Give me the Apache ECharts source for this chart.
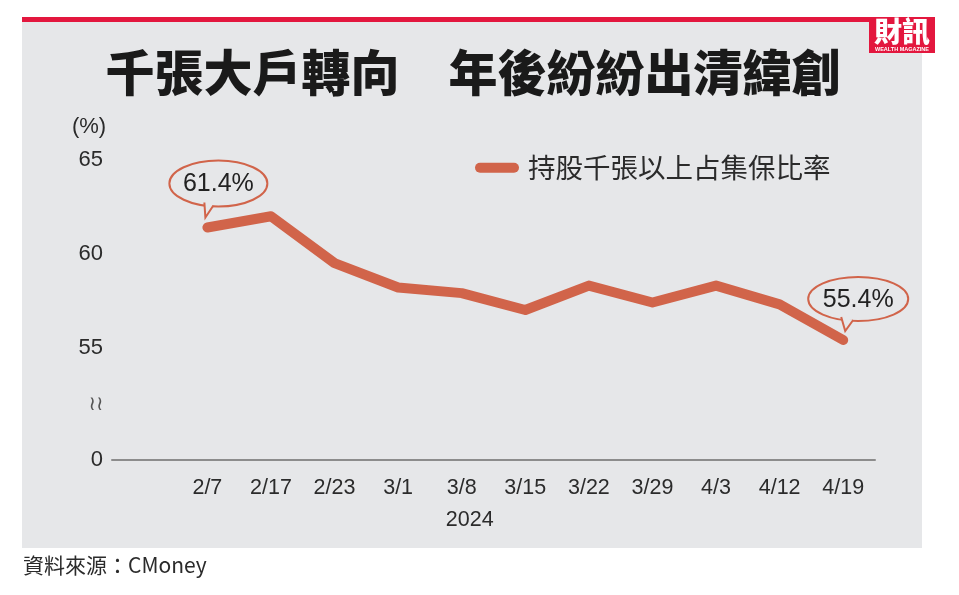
<!DOCTYPE html>
<html><head><meta charset="utf-8">
<script src="https://cdn.jsdelivr.net/npm/echarts@6/dist/echarts.min.js"></script>
<style>html,body{margin:0;padding:0;background:#fff}#c{width:959px;height:595px}</style>
</head><body><div id="c"></div>
<script>
const categories = ['', '2/7', '2/17', '2/23', '3/1', '3/8', '3/15', '3/22', '3/29', '4/3', '4/12', '4/19'];
const ratioValues = ['-', 61.4, 62.0, 59.5, 58.2, 57.9, 57.0, 58.3, 57.4, 58.3, 57.3, 55.4];
const yTickValues = [49, 55, 60, 65];
const yTickLabels = ['0', '55', '60', '65'];
const seriesName = '持股千張以上占集保比率';
const titleText = '千張大戶轉向　年後紛紛出清緯創';
const sourceText = '資料來源：CMoney';
const yearText = '2024';
const calloutIdx = [1, 11];

const LINE = '#d1644a';
const BG = '#e6e7e9';
const FONT = "'Liberation Sans', 'Noto Sans CJK TC', sans-serif";
const chart = echarts.init(document.getElementById('c'), null, {renderer: 'canvas'});

const option = {
  backgroundColor: '#ffffff',
  animation: false,
  grid: {left: 112, right: 84, top: 160, bottom: 135},
  legend: {
    left: 470, top: 149,
    icon: 'path://M5,0 H39 A5,5 0 0 1 39,10 H5 A5,5 0 0 1 5,0 Z',
    itemWidth: 44, itemHeight: 10, itemGap: 10,
    textStyle: {fontFamily: "'Noto Sans CJK TC', sans-serif", fontSize: 27.5, color: '#2b2b2b', padding: [0, 0, 0, 4]},
    data: [seriesName]
  },
  xAxis: {
    type: 'category', data: categories, boundaryGap: true,
    axisLine: {lineStyle: {color: '#8c8c8c', width: 2}},
    axisTick: {show: false},
    axisLabel: {interval: 0, margin: 17, fontFamily: FONT, fontSize: 21.5, color: '#2b2b2b'}
  },
  yAxis: {
    type: 'value', min: 49, max: 65,
    axisLine: {show: false}, axisTick: {show: false}, splitLine: {show: false},
    axisLabel: {
      customValues: yTickValues, margin: 9, fontFamily: FONT, fontSize: 22, color: '#2b2b2b',
      formatter: v => yTickLabels[yTickValues.indexOf(v)]
    }
  },
  series: [{
    name: seriesName, type: 'line', data: ratioValues, symbol: 'none',
    lineStyle: {color: LINE, width: 10, cap: 'round', join: 'round'},
    itemStyle: {color: LINE}
  }]
};
chart.setOption(option);

function bubble(idx, dx, dy, rx, ry, tail, label) {
  const p = chart.convertToPixel({gridIndex: 0}, [idx, ratioValues[idx]]);
  const cx = p[0] + dx, cy = p[1] + dy;
  const tip = [p[0] + tail[0][0], p[1] + tail[0][1]];
  const a = [cx + tail[1][0], cy + tail[1][1]];
  const b = [cx + tail[2][0], cy + tail[2][1]];
  return [
    {type: 'ellipse', shape: {cx: cx, cy: cy, rx: rx, ry: ry}, style: {fill: BG, stroke: LINE, lineWidth: 2}, z: 10},
    {type: 'polygon', shape: {points: [a, tip, b]}, style: {fill: BG}, z: 11},
    {type: 'polyline', shape: {points: [a, tip, b]}, style: {fill: null, stroke: LINE, lineWidth: 2}, z: 12},
    {type: 'text', x: cx, y: cy + 1, style: {text: label, fontFamily: FONT, fontSize: 25, fontWeight: 500, fill: '#222', align: 'center', verticalAlign: 'middle'}, z: 13}
  ];
}

const yearX = chart.convertToPixel({xAxisIndex: 0}, '3/8');
const graphics = [
  {type: 'rect', shape: {x: 22, y: 21, width: 900, height: 527}, style: {fill: BG}, z: -10},
  {type: 'rect', shape: {x: 22, y: 17, width: 850, height: 5}, style: {fill: '#e3173e'}, z: -5},
  {type: 'rect', shape: {x: 869, y: 17, width: 66, height: 36}, style: {fill: '#e3173e'}, z: -5},
  {type: 'text', x: 902, y: 31, style: {text: '財訊', fontFamily: "'Noto Sans CJK TC', serif", fontSize: 28, fontWeight: 900, fill: '#fff', align: 'center', verticalAlign: 'middle'}},
  {type: 'text', x: 902, y: 49, style: {text: 'WEALTH MAGAZINE', fontFamily: FONT, fontSize: 5.5, fontWeight: 'bold', fill: '#fff', align: 'center', verticalAlign: 'middle'}},
  {type: 'text', x: 473, y: 72, style: {text: titleText, fontFamily: "'Noto Sans CJK TC', sans-serif", fontSize: 49, fontWeight: 900, fill: '#1a1a1a', align: 'center', verticalAlign: 'middle'}},
  {type: 'text', x: 89, y: 127, style: {text: '(%)', fontFamily: FONT, fontSize: 22, fill: '#2b2b2b', align: 'center', verticalAlign: 'middle'}},
  {type: 'text', x: 96, y: 405, style: {text: '≀≀', fontFamily: "'DejaVu Sans', sans-serif", fontSize: 20, fill: '#555', align: 'center', verticalAlign: 'middle'}},
  {type: 'text', x: yearX + 8, y: 520, style: {text: yearText, fontFamily: FONT, fontSize: 21.5, fill: '#2b2b2b', align: 'center', verticalAlign: 'middle'}},
  {type: 'text', x: 23, y: 565, style: {text: sourceText, fontFamily: "'Noto Sans CJK TC', sans-serif", fontSize: 21, fill: '#2b2b2b', align: 'left', verticalAlign: 'middle'}}
].concat(
  bubble(calloutIdx[0], 11, -44, 49, 23, [[-2, -10], [-14, 19], [-5, 22]], ratioValues[calloutIdx[0]].toFixed(1) + '%'),
  bubble(calloutIdx[1], 15, -41, 50, 22, [[2, -9], [-17, 18], [-5, 21]], ratioValues[calloutIdx[1]].toFixed(1) + '%')
);
chart.setOption({graphic: graphics});
</script></body></html>
